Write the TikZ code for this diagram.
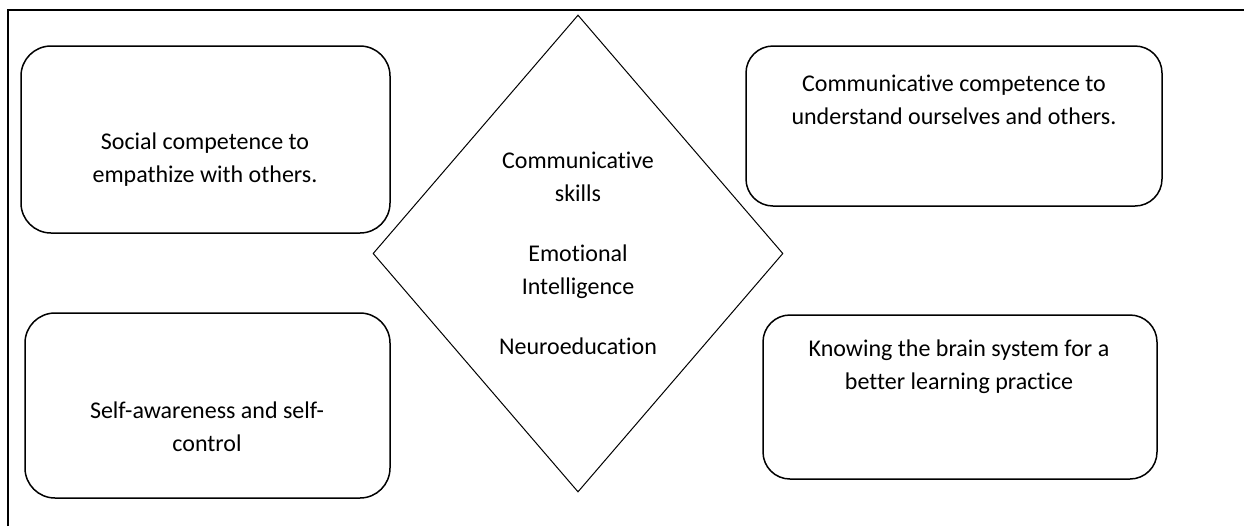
\documentclass[tikz,border=0pt]{standalone}
\usepackage{fontspec}
\setmainfont{Carlito}[Ligatures=NoCommon]
\usetikzlibrary{shapes.geometric}
\tikzset{
  box/.style={draw, rounded corners=#1, line width=0.75pt, inner sep=0pt},
  box/.default=15pt,
  txt/.style={align=center, inner sep=0pt, font=\fontsize{12pt}{16.5pt}\selectfont}
}
\begin{document}
\begin{tikzpicture}[x=0.5pt,y=-0.5pt]
  \useasboundingbox (0,0) rectangle (1244,526);
  \draw[line width=1pt] (8,526) -- (8,10) -- (1244,10);
  % centre
  \node[draw, diamond, line width=0.5pt, txt, minimum width=205pt, minimum height=238.5pt] (core) at (578,253.5)
    {Communicative\\ skills\\[13.5pt] Emotional\\ Intelligence\\[13.5pt] Neuroeducation};
  % four boxes
  \node[box, minimum width=184.5pt, minimum height=93.5pt] (social) at (205.5,139.5) {};
  \node[box=13.5pt, minimum width=208pt, minimum height=80pt] (commun) at (954,126) {};
  \node[box, minimum width=182.5pt, minimum height=92.5pt] (self) at (207.5,405.5) {};
  \node[box=13.5pt, minimum width=197pt, minimum height=82pt] (brain) at (960,397) {};
  \node[txt] (socialtext) at (205,159.5) {Social competence to\\ empathize with others.};
  \node[txt] (communtext) at (954,99.5) {Communicative competence to\\ understand ourselves and others.};
  \node[txt] (selftext) at (207,426.5) {Self-awareness and self-\\ control};
  \node[txt] (braintext) at (959,367) {Knowing the brain system for a\\ better learning practice};
\end{tikzpicture}
\end{document}
